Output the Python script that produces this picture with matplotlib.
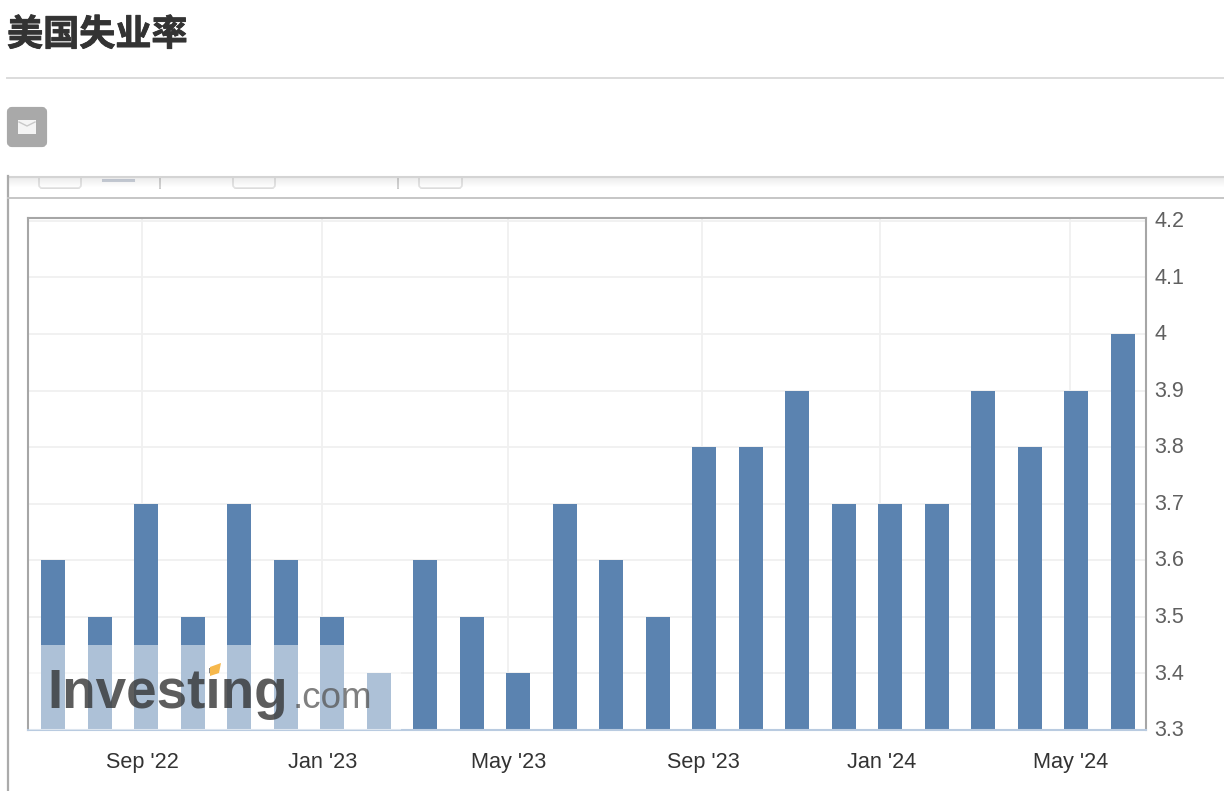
import matplotlib
matplotlib.use('Agg')
import matplotlib.pyplot as plt
import matplotlib.patheffects as pe
from matplotlib.patches import Rectangle, FancyBboxPatch, Polygon
from matplotlib.transforms import ScaledTranslation
import numpy as np

W, H = 1224, 791
BAR_COLOR = '#5b83b0'
GRID_COLOR = '#f0f0f0'

title = '美国失业率'
rates = [3.6, 3.5, 3.7, 3.5, 3.7, 3.6, 3.5, 3.4, 3.6, 3.5, 3.4, 3.7,
         3.6, 3.5, 3.8, 3.8, 3.9, 3.7, 3.7, 3.7, 3.9, 3.8, 3.9, 4.0]
y_ticks = [3.3, 3.4, 3.5, 3.6, 3.7, 3.8, 3.9, 4.0, 4.1, 4.2]
y_labels = ['3.3', '3.4', '3.5', '3.6', '3.7', '3.8', '3.9', '4', '4.1', '4.2']
# ordinal axis, month starts fall a little before the release bars
x_ticks = [1.91, 5.78, 9.78, 13.95, 17.78, 21.86]
x_labels = ["Sep '22", "Jan '23", "May '23", "Sep '23", "Jan '24", "May '24"]

plt.rcParams['font.family'] = ['Liberation Sans', 'Noto Sans CJK SC', 'DejaVu Sans']

fig = plt.figure(figsize=(W / 100, H / 100), dpi=100)

# page furniture drawn in pixel coordinates
page = fig.add_axes([0, 0, 1, 1], zorder=0)
page.axis('off')

# scrolled-off toolbar, cut by the sticky header
for x0, x1 in [(39, 81), (233, 275), (419, 462)]:
    page.add_patch(FancyBboxPatch((x0, 165), x1 - x0, 23, boxstyle='round,pad=0,rounding_size=3',
                                  fc='white', ec='#d6d6d6', lw=1.2, zorder=0.2))
page.plot([103, 133], [179.5, 179.5], color='#b9c1ce', lw=2.2, zorder=0.2)
for x in (160, 398):
    page.plot([x, x], [170, 188], color='#b5b5b5', lw=1.2, zorder=0.2)
shadow = np.linspace(0.72, 1, 12).reshape(-1, 1)
page.imshow(shadow, extent=(8, W, 188, 176), cmap='gray', vmin=0, vmax=1, aspect='auto',
            alpha=0.3, zorder=0.3)
page.add_patch(Rectangle((0, 0), W, 176, fc='white', ec='none', zorder=0.5))
page.plot([8, W], [176.5, 176.5], color='#d4d4d4', lw=1.5, zorder=1)
page.plot([8, 8], [176, H], color='#ababab', lw=1.6, zorder=1)
page.plot([8, W], [198, 198], color='#c6c6c6', lw=1.4, zorder=1)

page.text(7, 35, title, fontsize=26, fontweight='bold', color='#333333',
          family=['Noto Sans CJK SC', 'DejaVu Sans'], va='center', ha='left', zorder=3,
          path_effects=[pe.withStroke(linewidth=0.6, foreground='#333333')])
page.plot([7, W], [78, 78], color='#dcdcdc', lw=1.4, zorder=3)
page.add_patch(FancyBboxPatch((9, 109), 36, 36, boxstyle='round,pad=0,rounding_size=3',
                              fc='#a9a9a9', ec='#a9a9a9', lw=3, zorder=3))
page.add_patch(Rectangle((18, 120), 18, 14, fc='#f4f4f4', ec='none', zorder=3))
page.plot([19, 27, 35], [122, 126, 122], color='#c8c8c8', lw=1, zorder=3)
page.set_xlim(0, W)
page.set_ylim(H, 0)

# chart
ax = fig.add_axes([28 / W, 1 - 730 / H, (1146 - 28) / W, (730 - 218) / H], zorder=2)
ax.patch.set_alpha(0)
ax.bar(range(len(rates)), rates, width=0.516, color=BAR_COLOR, zorder=2)
ax.set_xlim(-0.537, 23.495)
ax.set_ylim(3.3, 4.205)
ax.set_yticks(y_ticks, y_labels)
ax.set_xticks(x_ticks, x_labels)
ax.yaxis.tick_right()
ax.grid(True, color=GRID_COLOR, lw=1.3, zorder=0)
ax.set_axisbelow(True)
ax.tick_params(axis='y', length=0, pad=6, labelsize=15.5, labelcolor='#606060')
ax.tick_params(axis='x', length=0, pad=16, labelsize=15.6, labelcolor='#333333')
# labels sit a touch off their gridlines in the original
up = ScaledTranslation(0, 1.8 / 100, fig.dpi_scale_trans)
for label in ax.get_yticklabels():
    label.set_transform(label.get_transform() + up)
right = ScaledTranslation(1 / 100, 0, fig.dpi_scale_trans)
for label in ax.get_xticklabels():
    label.set_transform(label.get_transform() + right)
for side in ('left', 'top', 'right'):
    ax.spines[side].set_color('#a6a6a6')
    ax.spines[side].set_linewidth(1.5)
ax.spines['bottom'].set_color('#b9cbe0')
ax.spines['bottom'].set_linewidth(1.5)

# watermark: pale veil over the lower left bars, then the logo
ax.add_patch(Rectangle((1 / 1118, 0), 372 / 1118, 85 / 512, transform=ax.transAxes,
                       fc='white', ec='none', alpha=0.5, zorder=3))
ax.text(19 / 1118, 22 / 512, 'Investing', transform=ax.transAxes,
        fontsize=39.5, fontweight='bold', color='#303030', alpha=0.78, va='baseline', ha='left',
        zorder=4, family='Liberation Sans')
ax.text(265 / 1118, 22 / 512, '.com', transform=ax.transAxes,
        fontsize=26.5, color='#555555', alpha=0.75, va='baseline', ha='left',
        zorder=4, family='Liberation Sans')
ax.add_patch(Polygon([(210, 667), (221, 663), (219, 673), (210, 676)], closed=True,
                     fc='#f6b84c', ec='none', zorder=5, transform=page.transData))

fig.savefig('out.png', dpi=100, facecolor='white')
